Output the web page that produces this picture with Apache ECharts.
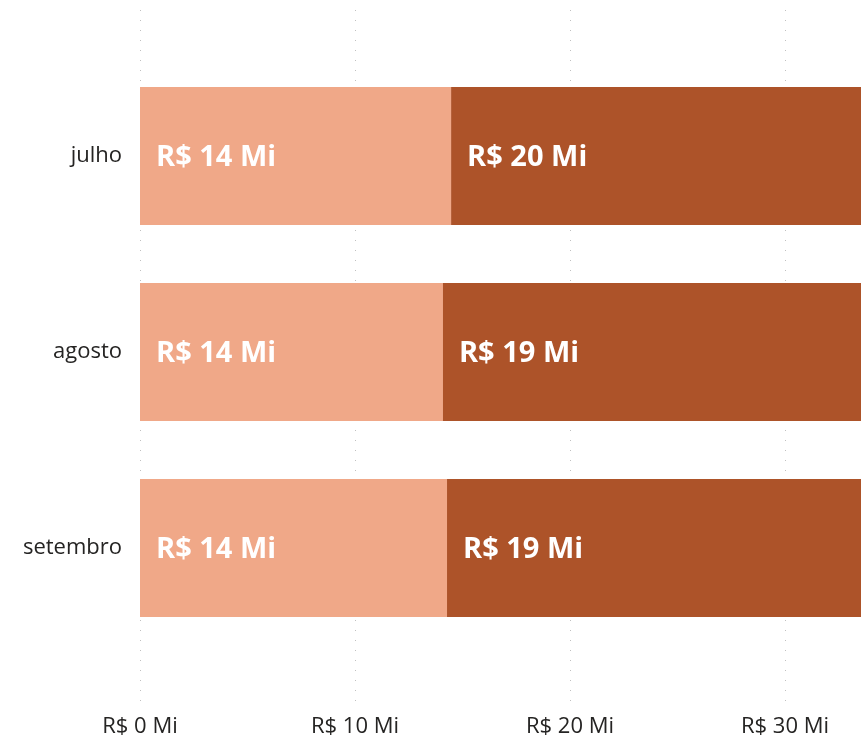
<!DOCTYPE html>
<html>
<head>
<meta charset="utf-8">
<script src="https://cdn.jsdelivr.net/npm/echarts@6/dist/echarts.min.js"></script>
<style>
  html, body { margin: 0; padding: 0; background: #ffffff; }
  #chart { width: 861px; height: 738px; }
</style>
</head>
<body>
<div id="chart"></div>
<script>
// Monthly values, in R$ millions
const months = ['julho', 'agosto', 'setembro'];
const firstPart = [14.47, 14.09, 14.28];
const secondPart = [20, 19.47, 19.4];
const xTicks = [0, 10, 20, 30, 40];

const FONT = '"Open Sans", "Noto Sans", sans-serif';
const fmtMi = v => 'R$ ' + Math.round(v) + ' Mi';

const chart = echarts.init(document.getElementById('chart'), null, { renderer: 'canvas' });

const xMin = xTicks[0];
const xMax = xTicks[xTicks.length - 1];
const xStep = xTicks[1] - xTicks[0];

const barLabel = {
  show: true,
  position: 'insideLeft',
  distance: 16,
  offset: [0, 2],
  color: '#ffffff',
  fontFamily: FONT,
  fontWeight: 'bold',
  fontSize: 29,
  formatter: p => fmtMi(p.value)
};

// the plot runs past the right edge of the canvas, so the last tick is cut off
const plotWidth = 860;

chart.setOption({
  animation: false,
  backgroundColor: '#ffffff',
  grid: [
    // scale + dotted gridlines
    { left: 140, width: plotWidth, top: 10, bottom: 33, containLabel: false, outerBoundsMode: 'none' },
    // bars
    { left: 140, width: plotWidth, top: 58, bottom: 92, containLabel: false, outerBoundsMode: 'none' }
  ],
  xAxis: [
    {
      gridIndex: 0,
      type: 'value',
      min: xMin, max: xMax, interval: xStep,
      axisLine: { show: false },
      axisTick: { show: false },
      axisLabel: {
        margin: 11,
        color: '#252423',
        fontFamily: FONT,
        fontSize: 22,
        formatter: v => 'R$ ' + v + ' Mi'
      },
      splitLine: {
        show: true,
        lineStyle: { color: '#c0c0c0', width: 1, type: [1, 9] }
      }
    },
    {
      gridIndex: 1,
      type: 'value',
      min: xMin, max: xMax, interval: xStep,
      show: false,
      splitLine: { show: false }
    }
  ],
  yAxis: [
    { gridIndex: 0, type: 'value', show: false, splitLine: { show: false } },
    {
      gridIndex: 1,
      type: 'category',
      data: months,
      inverse: true,
      axisLine: { show: false },
      axisTick: { show: false },
      axisLabel: {
        margin: 18,
        color: '#252423',
        fontFamily: FONT,
        fontSize: 22,
        padding: [8, 0, 0, 0]
      }
    }
  ],
  series: [
    {
      type: 'bar',
      xAxisIndex: 1, yAxisIndex: 1,
      stack: 'total',
      data: firstPart,
      barWidth: 138,
      itemStyle: { color: '#F0A888' },
      label: barLabel
    },
    {
      type: 'bar',
      xAxisIndex: 1, yAxisIndex: 1,
      stack: 'total',
      data: secondPart,
      barWidth: 138,
      itemStyle: { color: '#AD5329' },
      label: barLabel
    }
  ]
});
</script>
</body>
</html>
